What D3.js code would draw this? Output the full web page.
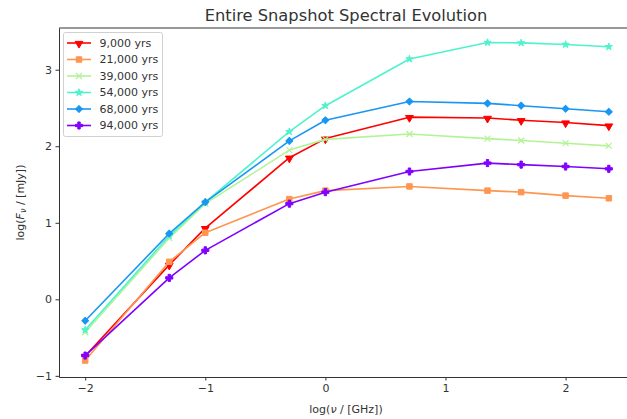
<!DOCTYPE html>
<html>
<head>
<meta charset="utf-8">
<script src="https://cdn.jsdelivr.net/npm/d3@7"></script>
<style>
  body { margin: 0; background: #fff; }
  text { font-family: "DejaVu Sans", sans-serif; fill: #333; }
</style>
</head>
<body>
<div id="container"></div>
<script>
/* CONSTANTS AND GLOBALS */
const width = 627;
const height = 419;

/* DATA */
// log10 of frequency in GHz
const logNu = [-2, -1.3, -1, -0.3, 0, 0.7, 1.35, 1.63, 2, 2.36];

const ages = ["9,000 yrs", "21,000 yrs", "39,000 yrs", "54,000 yrs", "68,000 yrs", "94,000 yrs"];

// log10 flux in mJy, one array per snapshot
const flux9k  = [-0.74, 0.45, 0.93, 1.85, 2.10, 2.38, 2.37, 2.34, 2.31, 2.27];
const flux21k = [-0.80, 0.49, 0.87, 1.31, 1.42, 1.475, 1.42, 1.40, 1.355, 1.32];
const flux39k = [-0.43, 0.80, 1.25, 1.95, 2.09, 2.16, 2.10, 2.075, 2.04, 2.005];
const flux54k = [-0.40, 0.83, 1.27, 2.19, 2.53, 3.14, 3.355, 3.35, 3.33, 3.30];
const flux68k = [-0.28, 0.86, 1.27, 2.07, 2.34, 2.585, 2.56, 2.53, 2.49, 2.45];
const flux94k = [-0.735, 0.28, 0.64, 1.25, 1.40, 1.67, 1.78, 1.76, 1.735, 1.705];

const allFlux = [flux9k, flux21k, flux39k, flux54k, flux68k, flux94k];

const xTicks = [-2, -1, 0, 1, 2];
const yTicks = [-1, 0, 1, 2, 3];

// styles (rainbow colormap, one marker per series)
const colors  = ["#ff0000", "#ff964f", "#b2f396", "#4df3ce", "#1996f3", "#8000ff"];
const markers = ["tri", "square", "x", "star", "diamond", "plus"];

/* HTML ELEMENTS */
const svg = d3.select("#container")
  .append("svg")
  .attr("width", width)
  .attr("height", height);

const frame = { left: 59, right: 635, top: 28, bottom: 377 };

// SCALES
const x = d3.scaleLinear()
  .domain([-2.218, 2.578])
  .range([frame.left, frame.right]);

const y = d3.scaleLinear()
  .domain([-1.015, 3.545])
  .range([frame.bottom, frame.top]);

// marker drawing
function drawMarker(g, type, color) {
  if (type === "x") {
    const r = 3;
    g.append("path")
      .attr("d", `M${-r},${-r}L${r},${r}M${-r},${r}L${r},${-r}`)
      .attr("stroke", color)
      .attr("stroke-width", 1.2)
      .attr("fill", "none");
    return;
  }
  let p;
  if (type === "tri") p = d3.symbol(d3.symbolTriangle, 26)();
  if (type === "square") p = d3.symbol(d3.symbolSquare, 30)();
  if (type === "star") p = d3.symbol(d3.symbolStar, 16)();
  if (type === "diamond") p = d3.symbol(d3.symbolSquare, 24)();
  if (type === "plus") p = d3.symbol(d3.symbolCross, 28)();
  const path = g.append("path")
    .attr("d", p)
    .attr("fill", color)
    .attr("stroke", color)
    .attr("stroke-width", 1)
    .attr("stroke-linejoin", "round");
  if (type === "tri") path.attr("transform", "rotate(180) translate(0,-0.6)");
  if (type === "diamond") path.attr("transform", "rotate(45)");
}

// clip to axes
svg.append("clipPath").attr("id", "clip")
  .append("rect")
  .attr("x", frame.left).attr("y", frame.top)
  .attr("width", frame.right - frame.left)
  .attr("height", frame.bottom - frame.top);

const plot = svg.append("g").attr("clip-path", "url(#clip)");

const line = d3.line()
  .x((d, i) => x(logNu[i]))
  .y(d => y(d));

allFlux.forEach((vals, k) => {
  const g = plot.append("g");
  g.append("path")
    .datum(vals)
    .attr("d", line)
    .attr("fill", "none")
    .attr("stroke", colors[k])
    .attr("stroke-width", 1.6)
    .attr("stroke-linejoin", "round");
  vals.forEach((v, i) => {
    const m = g.append("g").attr("transform", `translate(${x(logNu[i])},${y(v)})`);
    drawMarker(m, markers[k], colors[k]);
  });
});

// AXES
const fmt = d3.format("d");

const xAxis = svg.append("g")
  .attr("transform", `translate(0,${frame.bottom})`)
  .call(d3.axisBottom(x).tickValues(xTicks).tickFormat(fmt)
    .tickSize(3.5).tickPadding(3.5).tickSizeOuter(0));

const yAxis = svg.append("g")
  .attr("transform", `translate(${frame.left},0)`)
  .call(d3.axisLeft(y).tickValues(yTicks).tickFormat(fmt)
    .tickSize(3.5).tickPadding(3.5).tickSizeOuter(0));

[xAxis, yAxis].forEach(a => {
  a.selectAll("path.domain").attr("stroke", "#333").attr("stroke-width", 1);
  a.selectAll("line").attr("stroke", "#333");
  a.selectAll("text").style("font-size", "11px").attr("fill", "#333");
});

// top and right spines
svg.append("line")
  .attr("x1", frame.left).attr("x2", frame.right)
  .attr("y1", frame.top).attr("y2", frame.top)
  .attr("stroke", "#333");
svg.append("line")
  .attr("x1", frame.right).attr("x2", frame.right)
  .attr("y1", frame.top).attr("y2", frame.bottom)
  .attr("stroke", "#333");

// title
svg.append("text")
  .attr("x", 346)
  .attr("y", 20.5)
  .attr("text-anchor", "middle")
  .style("font-size", "16.3px")
  .text("Entire Snapshot Spectral Evolution");

// x label
const xl = svg.append("text")
  .attr("x", 346)
  .attr("y", 413)
  .attr("text-anchor", "middle")
  .style("font-size", "11px");
xl.append("tspan").text("log(");
xl.append("tspan").style("font-style", "italic").text("ν");
xl.append("tspan").text(" / [GHz])");

// y label
const yl = svg.append("text")
  .attr("transform", `translate(23.5,${(frame.top + frame.bottom) / 2}) rotate(-90)`)
  .attr("text-anchor", "middle")
  .style("font-size", "11px");
yl.append("tspan").text("log(");
yl.append("tspan").style("font-style", "italic").text("F");
yl.append("tspan").style("font-style", "italic").style("font-size", "8px").attr("dy", 2).text("ν");
yl.append("tspan").attr("dy", -2).text(" / [mJy])");

// LEGEND
const legend = svg.append("g");
legend.append("rect")
  .attr("x", 63.5).attr("y", 32.5)
  .attr("width", 99).attr("height", 104)
  .attr("rx", 2)
  .attr("fill", "#fff").attr("fill-opacity", 0.8)
  .attr("stroke", "#d0d0d0");

ages.forEach((name, k) => {
  const ly = 43 + k * 16.5;
  legend.append("line")
    .attr("x1", 67).attr("x2", 91)
    .attr("y1", ly).attr("y2", ly)
    .attr("stroke", colors[k]).attr("stroke-width", 1.6);
  const m = legend.append("g").attr("transform", `translate(79,${ly})`);
  drawMarker(m, markers[k], colors[k]);
  legend.append("text")
    .attr("x", 99.5).attr("y", ly)
    .attr("dy", "0.36em")
    .style("font-size", "11px")
    .text(name);
});
</script>
</body>
</html>
